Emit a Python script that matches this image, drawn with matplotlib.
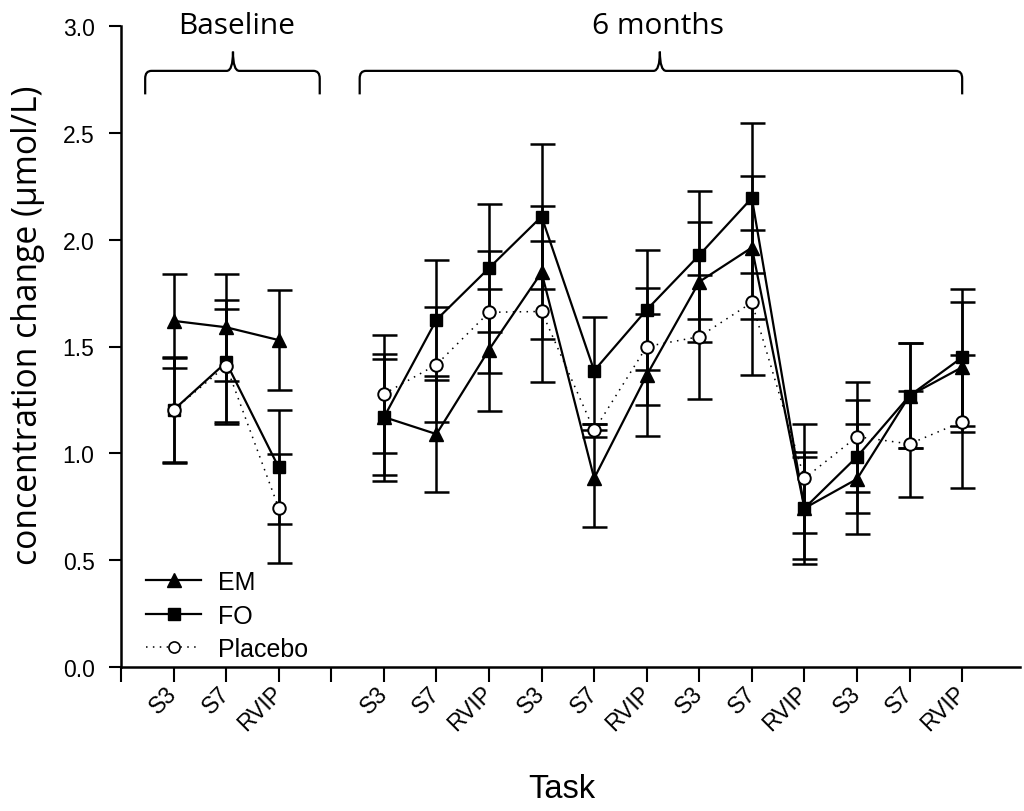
import matplotlib
matplotlib.use("Agg")
import matplotlib.pyplot as plt
from matplotlib.path import Path
from matplotlib.patches import PathPatch
from matplotlib.lines import Line2D

# task order: baseline (3 tasks) then 6 months (4 x 3 tasks)
tasks = ["S3", "S7", "RVIP"]
n_base = 3
n_six = 12

em = [1.62, 1.59, 1.53,
      1.17, 1.09, 1.485, 1.847, 0.883, 1.366, 1.803, 1.963, 0.743, 0.880, 1.27, 1.403]
em_err = [0.22, 0.25, 0.235,
          0.27, 0.27, 0.285, 0.31, 0.227, 0.285, 0.28, 0.333, 0.238, 0.257, 0.245, 0.303]

fo = [1.203, 1.426, 0.934,
      1.168, 1.625, 1.867, 2.108, 1.387, 1.672, 1.928, 2.195, 0.743, 0.984, 1.27, 1.449]
fo_err = [0.245, 0.29, 0.267,
          0.297, 0.28, 0.30, 0.34, 0.25, 0.28, 0.30, 0.35, 0.261, 0.265, 0.245, 0.32]

placebo = [1.203, 1.41, 0.744,
           1.278, 1.415, 1.66, 1.664, 1.107, 1.50, 1.546, 1.706, 0.883, 1.078, 1.044, 1.148]
placebo_err = [0.25, 0.265, 0.255,
               0.277, 0.268, 0.285, 0.33, 0.03, 0.273, 0.29, 0.34, 0.254, 0.257, 0.25, 0.31]

plt.rcParams['font.family'] = ['Liberation Sans', 'DejaVu Sans']

fig = plt.figure(figsize=(10.24, 8.12), dpi=100)
ax = fig.add_axes([121 / 1024, 144 / 812, 899 / 1024, 641 / 812])

# x positions: baseline at 1..3, a blank slot at 4, 6 months at 5..16
x_base = list(range(1, n_base + 1))
x_six = list(range(n_base + 2, n_base + 2 + n_six))
xs = x_base + x_six
segments = [slice(0, n_base), slice(n_base, n_base + n_six)]

ebkw = dict(fmt='none', ecolor='black', elinewidth=1.8, capsize=9, capthick=1.8)
ax.errorbar(xs, em, yerr=em_err, zorder=2, **ebkw)
ax.errorbar(xs, fo, yerr=fo_err, zorder=2, **ebkw)
ax.errorbar(xs, placebo, yerr=placebo_err, zorder=2, **ebkw)

for seg in segments:
    ax.plot(xs[seg], em[seg], color='black', lw=1.6, marker='^', ms=9.5,
            mfc='black', mec='black', zorder=3)
    ax.plot(xs[seg], fo[seg], color='black', lw=1.6, marker='s', ms=8.5,
            mfc='black', mec='black', zorder=3)
    ax.plot(xs[seg], placebo[seg], color='black', lw=1.1, ls=(0, (1, 3.5)),
            marker='o', ms=9, mfc='white', mec='black', mew=1.4, zorder=4)

# axes styling
ax.set_xlim(0, 17.1)
ax.set_ylim(0, 3.0)
ax.set_yticks([0.0, 0.5, 1.0, 1.5, 2.0, 2.5, 3.0])
ax.set_yticklabels([f"{v:.1f}" for v in ax.get_yticks()], fontsize=16.5)
ticklabels = [""] + tasks + [""] + tasks * 4
ax.set_xticks(range(len(ticklabels)))
ax.set_xticklabels(ticklabels, rotation=45, ha='right', va='center',
                   rotation_mode='anchor', fontsize=16.5)
ax.tick_params(axis='y', direction='out', length=9, width=1.5, pad=10)
ax.tick_params(axis='x', direction='out', length=11, width=1.5, pad=5)
for side in ['top', 'right']:
    ax.spines[side].set_visible(False)
for side in ['left', 'bottom']:
    ax.spines[side].set_linewidth(1.8)

ax.set_ylabel("concentration change (µmol/L)", fontsize=24.2,
              family=['Open Sans', 'DejaVu Sans'])
ax.yaxis.set_label_coords(-0.084, 0.535)
ax.set_xlabel("Task", fontsize=23.5, va='center')
ax.xaxis.set_label_coords(0.49, -0.189)


def brace(ax, x0, x1, xm, y_line, y_tip, y_end, rx=0.12, ry=0.035):
    verts = [(x0, y_end), (x0, y_line - ry), (x0, y_line), (x0 + rx, y_line),
             (xm - rx, y_line), (xm, y_line), (xm, y_tip),
             (xm, y_line), (xm + rx, y_line),
             (x1 - rx, y_line), (x1, y_line), (x1, y_line - ry), (x1, y_end)]
    codes = [Path.MOVETO, Path.LINETO, Path.CURVE3, Path.CURVE3,
             Path.LINETO, Path.CURVE3, Path.CURVE3,
             Path.CURVE3, Path.CURVE3,
             Path.LINETO, Path.CURVE3, Path.CURVE3, Path.LINETO]
    ax.add_patch(PathPatch(Path(verts, codes), fc='none', ec='black', lw=1.6,
                           clip_on=False))


brace(ax, 0.46, 3.78, 2.13, 2.79, 2.88, 2.68)
brace(ax, 4.54, 16.0, 10.25, 2.79, 2.88, 2.68)
ax.text(2.2, 3.0, "Baseline", ha='center', va='center', fontsize=21.5,
        family=['Open Sans', 'DejaVu Sans'], clip_on=False)
ax.text(10.22, 3.0, "6 months", ha='center', va='center', fontsize=21.5,
        family=['Open Sans', 'DejaVu Sans'], clip_on=False)

handles = [
    Line2D([], [], color='black', lw=1.6, marker='^', ms=9.5),
    Line2D([], [], color='black', lw=1.6, marker='s', ms=8.5),
    Line2D([], [], color='black', lw=1.1, ls=(0, (1, 3.5)), marker='o', ms=8,
           mfc='white', mew=1.2),
]
ax.legend(handles, ["EM", "FO", "Placebo"], loc='lower left',
          bbox_to_anchor=(0.006, -0.022), frameon=False, fontsize=18,
          handlelength=2.2, handletextpad=0.65, labelspacing=0.38, borderpad=0.3)

fig.savefig("out.png", dpi=100)
